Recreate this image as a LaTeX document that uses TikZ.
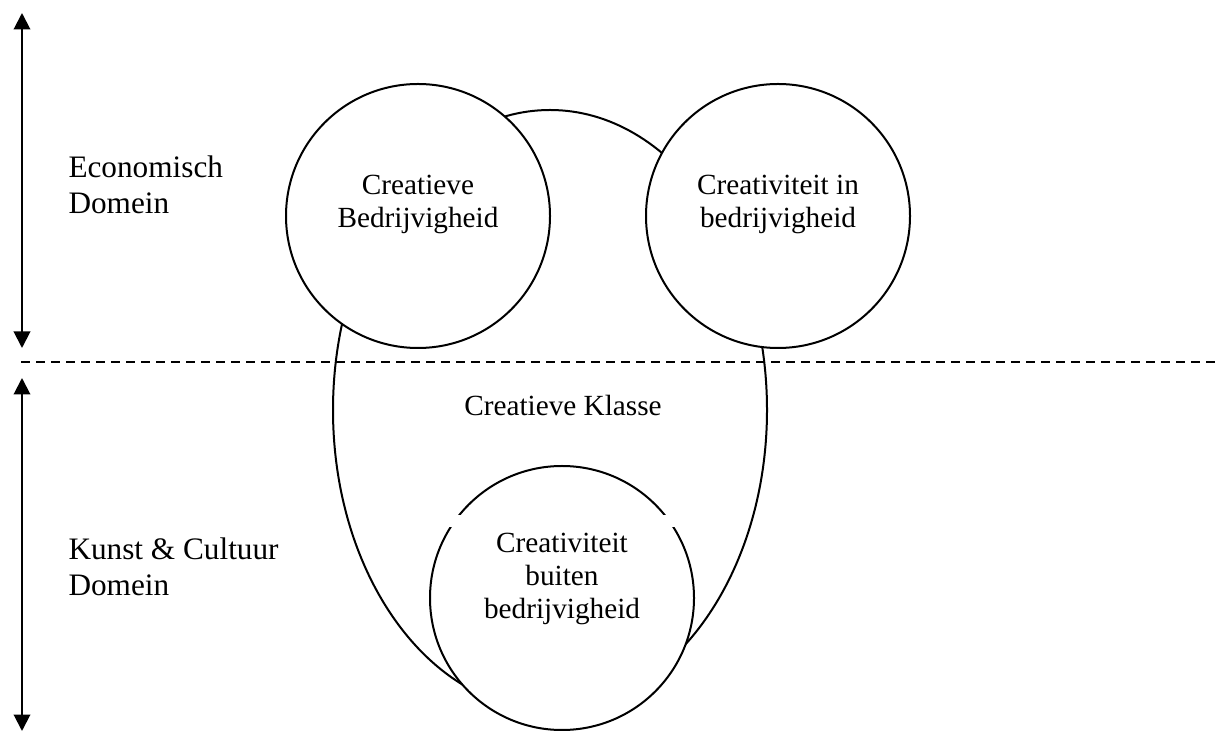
\documentclass[tikz,border=0pt]{standalone}
\usepackage{fontspec}
\setmainfont{Liberation Serif}
\usepackage{tikz}
\usetikzlibrary{shapes,arrows,positioning,calc,arrows.meta}

\tikzset{
    domein/.style={draw, circle, fill=white, line width=0.8pt, minimum size=105.6pt, inner sep=0pt},
    tekst/.style={align=center, inner sep=0pt, font=\fontsize{11.7}{13.2}\selectfont},
    zijtekst/.style={align=left, anchor=west, inner sep=0pt, font=\fontsize{12.5}{14.4}\selectfont},
    pijl/.style={{Triangle[width=6.6pt,length=6.6pt]}-{Triangle[width=6.6pt,length=6.6pt]}, line width=0.8pt}
}

\begin{document}
\begin{tikzpicture}[x=0.4pt, y=-0.4pt]
    \useasboundingbox (0,0) rectangle (1220,731);

    % Creatieve klasse (ellips)
    \node[draw, ellipse, line width=0.8pt, minimum width=173.6pt, minimum height=240pt, inner sep=0pt] (klasse) at (550,410) {};
    \node[tekst] (klassetekst) at (563,405) {Creatieve Klasse};

    % Cirkels
    \node[domein] (bedrijf) at (418,216) {};
    \node[domein] (increa) at (778,216) {};
    \node[domein] (buiten) at (562,598) {};
    \fill[white] (447,515) rectangle (677,527);

    \node[tekst] (bedrijftekst) at (418,204) {Creatieve\\Bedrijvigheid};
    \node[tekst] (increatekst) at (778,204) {Creativiteit in\\bedrijvigheid};
    \node[tekst] (buitentekst) at (562,579) {Creativiteit\\buiten\\bedrijvigheid};

    % Scheidingslijn
    \coordinate (lijnlinks) at (21,362);
    \coordinate (lijnrechts) at (1220,362);
    \draw[dashed, dash pattern=on 3.6pt off 2.4pt, line width=0.6pt] (lijnlinks) -- (lijnrechts);

    % Domeinen links
    \coordinate (ecoboven) at (22,13);
    \coordinate (ecoonder) at (22,348);
    \coordinate (kunstboven) at (22,378);
    \coordinate (kunstonder) at (22,731);
    \draw[pijl] (ecoboven) -- (ecoonder);
    \draw[pijl] (kunstboven) -- (kunstonder);

    \node[zijtekst] (eco) at (68,185) {Economisch\\Domein};
    \node[zijtekst] (kunst) at (68,567) {Kunst \& Cultuur\\Domein};
\end{tikzpicture}
\end{document}
